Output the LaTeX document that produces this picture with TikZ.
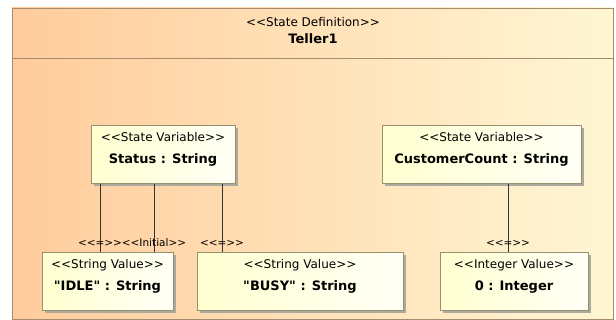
\documentclass[tikz,border=0pt]{standalone}
\usepackage{fontspec}
\newfontfamily\umlfont{DejaVu Sans}
\usetikzlibrary{shadows}
\definecolor{framel}{RGB}{255,204,156}
\definecolor{framer}{RGB}{255,246,212}
\definecolor{frameline}{RGB}{165,140,110}
\definecolor{boxl}{RGB}{255,255,208}
\definecolor{boxr}{RGB}{255,255,246}
\definecolor{boxline}{RGB}{150,145,110}
\definecolor{boxshadow}{RGB}{172,170,158}
\newcommand{\stereo}[1]{<<#1>>}
\newcommand{\typed}[1]{{\fontsize{13}{22}\selectfont\bfseries #1}}
\tikzset{
  umlbox/.style={draw=boxline, line width=0.8pt, left color=boxl, right color=boxr,
    anchor=north, align=center, inner xsep=0pt, inner ysep=0pt,
    text height=38pt, text depth=20pt, font=\umlfont\fontsize{12}{22}\selectfont,
    drop shadow={shadow xshift=3pt, shadow yshift=-3pt, fill=boxshadow, opacity=1}},
  link/.style={draw=black!80, line width=0.6pt},
  linklabel/.style={above, inner sep=5pt, font=\umlfont\fontsize{10.5}{12}\selectfont}
}
\begin{document}
\begin{tikzpicture}[x=1pt,y=-1pt]
  \useasboundingbox (0,0) rectangle (616,320);
  % state definition frame
  \draw[frameline, left color=framel, right color=framer] (12,8) rectangle (613,319);
  \draw[frameline] (12,58) -- (613,58);
  \node (stdef) at (313,22) [font=\umlfont\fontsize{12}{14}\selectfont] {\stereo{State Definition}};
  \node (teller) at (313,39) [font=\umlfont\fontsize{13}{15}\selectfont\bfseries] {Teller1};
  % variables
  \node (status) at (163,125) [umlbox, minimum width=144pt] {\stereo{State Variable}\\\typed{Status : String}};
  \node (custcount) at (481.5,125) [umlbox, minimum width=199pt] {\stereo{State Variable}\\\typed{CustomerCount : String}};
  % values
  \node (idle) at (107.5,252) [umlbox, minimum width=131pt] {\stereo{String Value}\\\typed{"IDLE" : String}};
  \node (busy) at (300,252) [umlbox, minimum width=206pt] {\stereo{String Value}\\\typed{"BUSY" : String}};
  \node (zero) at (514,252) [umlbox, minimum width=148pt] {\stereo{Integer Value}\\\typed{0 : Integer}};
  % links
  \coordinate (xidle) at (100,0);
  \coordinate (xinit) at (154,0);
  \coordinate (xbusy) at (222,0);
  \coordinate (xzero) at (508,0);
  \draw[link] (status.south -| xidle) -- (idle.north -| xidle) node[linklabel] {\stereo{=}};
  \draw[link] (status.south -| xinit) -- (idle.north -| xinit) node[linklabel] {\stereo{Initial}};
  \draw[link] (status.south -| xbusy) -- (busy.north -| xbusy) node[linklabel] {\stereo{=}};
  \draw[link] (custcount.south -| xzero) -- (zero.north -| xzero) node[linklabel] {\stereo{=}};
\end{tikzpicture}
\end{document}
